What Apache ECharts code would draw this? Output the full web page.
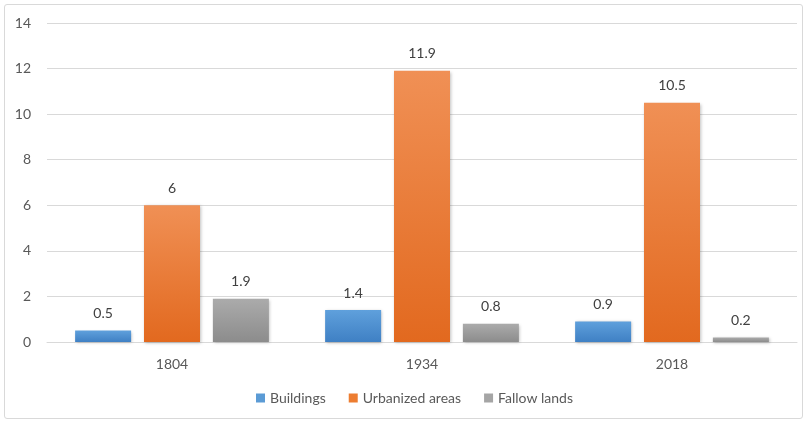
<!DOCTYPE html>
<html><head><meta charset="utf-8">
<script src="https://cdn.jsdelivr.net/npm/echarts@6/dist/echarts.min.js"></script>
<style>
html,body{margin:0;padding:0;background:#fff;}
#wrap{position:absolute;left:4px;top:4px;width:799px;height:415px;border:1px solid #d9d9d9;border-radius:3px;box-sizing:border-box;}
#c{position:absolute;left:0;top:0;width:808px;height:424px;}
</style></head>
<body><div id="wrap"></div><div id="c"></div>
<script>
var categories = ['1804','1934','2018'];
var buildings = [0.5, 1.4, 0.9];
var urbanized = [6, 11.9, 10.5];
var fallow = [1.9, 0.8, 0.2];
var yTicks = {min:0, max:14, interval:2};

function grad(top, bottom){
  return new echarts.graphic.LinearGradient(0,0,0,1,[{offset:0,color:top},{offset:1,color:bottom}]);
}
var font = 'Lato, "Open Sans", sans-serif';
function mk(name, data, top, bottom){
  return {
    name:name, type:'bar', data:data, barWidth:56, barGap:'23%',
    itemStyle:{color:grad(top,bottom), shadowColor:'rgba(0,0,0,0.25)', shadowBlur:3, shadowOffsetX:1, shadowOffsetY:1},
    label:{show:true, position:'top', distance:10, color:'#404040', fontSize:14, fontFamily:font}
  };
}
var chart = echarts.init(document.getElementById('c'));
chart.setOption({
  animation:false,
  color:['#5b9bd5','#ed7d31','#a5a5a5'],
  grid:{left:47,right:11,top:23,bottom:82,containLabel:false},
  legend:{bottom:14, left:251, itemWidth:9, itemHeight:9, itemGap:23, icon:'rect',
    textStyle:{color:'#595959', fontSize:14, fontFamily:font},
    data:[{name:'Buildings',itemStyle:{color:'#5b9bd5'}},{name:'Urbanized areas',itemStyle:{color:'#ed7d31'}},{name:'Fallow lands',itemStyle:{color:'#a5a5a5'}}]},
  xAxis:{type:'category', data:categories, axisTick:{show:false},
    axisLine:{lineStyle:{color:'#d9d9d9'}},
    axisLabel:{color:'#595959', fontSize:14, fontFamily:font, margin:15}},
  yAxis:{type:'value', min:yTicks.min, max:yTicks.max, interval:yTicks.interval,
    axisLine:{show:false}, axisTick:{show:false},
    splitLine:{lineStyle:{color:'#d9d9d9'}},
    axisLabel:{color:'#595959', fontSize:14, fontFamily:font, margin:16}},
  series:[
    mk('Buildings', buildings, '#5fa0dc', '#3f80c4'),
    mk('Urbanized areas', urbanized, '#f09055', '#e2691f'),
    mk('Fallow lands', fallow, '#ababab', '#8c8c8c')
  ]
});
</script></body></html>
